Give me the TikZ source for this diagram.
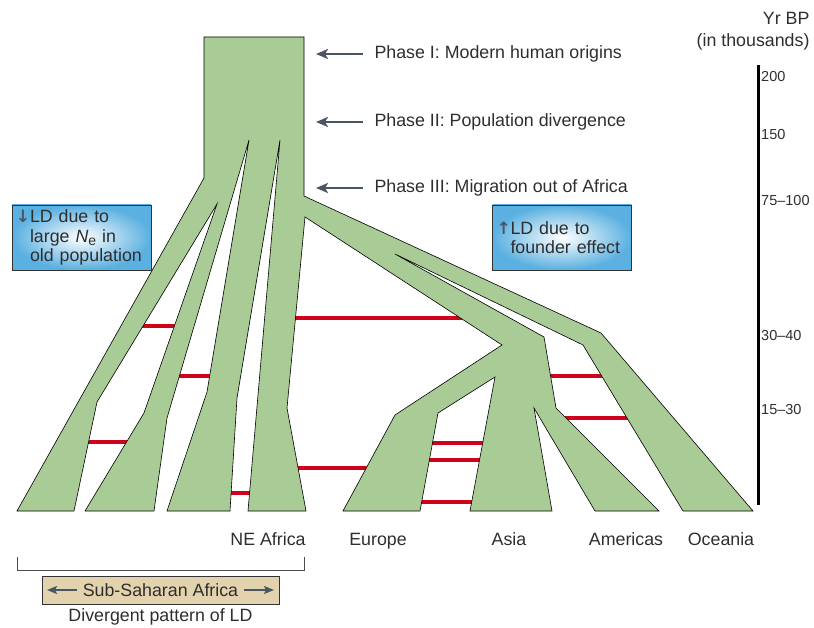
\documentclass[tikz,border=0pt]{standalone}
\usepackage{fontspec}
\setmainfont{Liberation Sans}
\newfontfamily\arrowfont{DejaVu Sans}
\usetikzlibrary{arrows.meta}
\definecolor{branchgreen}{HTML}{A9CC97}
\definecolor{ldred}{HTML}{D0021B}
\definecolor{arrowgray}{HTML}{4B5663}
\definecolor{boxblue}{HTML}{5AB0E0}
\definecolor{boxtan}{HTML}{E3D2AE}
\definecolor{txtgray}{HTML}{2E2E2E}
\begin{document}
\begin{tikzpicture}[x=1pt, y=-1pt,
    every node/.style={text=txtgray, font=\fontsize{17.8}{19.5}\selectfont},
    ldbar/.style={ldred, line width=4pt},
    phasearrow/.style={-{Stealth[length=12pt,width=10pt,inset=3pt]}, arrowgray, line width=2.6pt, shorten <=8pt},
    ssaarrow/.style={-{Stealth[length=10pt,width=8pt,inset=2pt]}, arrowgray, line width=2pt, shorten <=2pt},
    infobox/.style={draw=black!80, line width=0.8pt, inner color=white, outer color=boxblue,
        minimum width=139pt, minimum height=65pt, text width=131pt, inner xsep=4pt, align=left},
    ticklabel/.style={anchor=west, inner xsep=1pt, font=\fontsize{14.5}{17}\selectfont},
    poplabel/.style={anchor=base}]
    \useasboundingbox (0,0) rectangle (814,628);

    % Linkage between populations (behind the branches)
    \draw[ldbar] (141,326) -- (176,326);
    \draw[ldbar] (179,376) -- (211,376);
    \draw[ldbar] (86,442) -- (127,442);
    \draw[ldbar] (229,493) -- (251,493);
    \draw[ldbar] (295,318) -- (462,318);
    \draw[ldbar] (296,468) -- (367,468);
    \draw[ldbar] (431,443) -- (484,443);
    \draw[ldbar] (428,460) -- (481,460);
    \draw[ldbar] (420,502) -- (474,502);
    \draw[ldbar] (550,376) -- (604,376);
    \draw[ldbar] (563,418) -- (629,418);

    % Population tree
    \filldraw[fill=branchgreen, draw=black, line width=0.6pt]
        (204,37) -- (304,37) -- (304,196) -- (601,333) -- (753,511) -- (683,511)
        -- (583,345) -- (395,254) -- (544,337) -- (556,408) -- (659,511) -- (595,511)
        -- (534,408) -- (552,511) -- (470,511) -- (495,377) -- (438,413) -- (420,511)
        -- (343,511) -- (395,415) -- (502,345) -- (305,217) -- (287,408) -- (306,511)
        -- (248,511) -- (280,140) -- (237,398) -- (230,511) -- (167,511) -- (207,392)
        -- (249,140) -- (167,418) -- (154,511) -- (85,511) -- (144,413) -- (217,204)
        -- (97,402) -- (74,511) -- (17,511) -- (204,178) -- cycle;

    % Phases
    \node[anchor=west] (phaseI) at (371,54) {Phase I: Modern human origins};
    \node[anchor=west] (phaseII) at (371,122) {Phase II: Population divergence};
    \node[anchor=west] (phaseIII) at (371,188) {Phase III: Migration out of Africa};
    \coordinate (phaseIend) at (316,54);
    \coordinate (phaseIIend) at (316,122);
    \coordinate (phaseIIIend) at (316,188);
    \draw[phasearrow] (phaseI.west) -- (phaseIend);
    \draw[phasearrow] (phaseII.west) -- (phaseIIend);
    \draw[phasearrow] (phaseIII.west) -- (phaseIIIend);

    % LD boxes
    \node[infobox] (oldbox) at (81.5,237.5)
        {\makebox[14pt][l]{\textcolor{arrowgray}{\arrowfont\bfseries\fontsize{17}{19.5}\selectfont ↓}}LD due to\\
         \hspace*{14pt}large \textit{N}\raisebox{-0.4ex}{\fontsize{14}{14}\selectfont e} in\\
         \hspace*{14pt}old population};
    \node[infobox] (founderbox) at (562,237.5)
        {\makebox[14pt][l]{\textcolor{arrowgray}{\arrowfont\bfseries\fontsize{17}{19.5}\selectfont ↑}}LD due to\\
         \hspace*{14pt}founder effect};

    % Time axis
    \draw[line width=3pt] (758,65) -- (758,505);
    \node[anchor=east] (yrbp) at (813,18) {Yr BP};
    \node[anchor=east] (thousands) at (813,42) {(in thousands)};
    \node[ticklabel] (t200) at (760,77) {200};
    \node[ticklabel] (t150) at (760,135) {150};
    \node[ticklabel] (t75) at (760,201) {75–100};
    \node[ticklabel] (t30) at (760,336) {30–40};
    \node[ticklabel] (t15) at (760,410) {15–30};

    % Populations
    \node[poplabel] (neafrica) at (268,545) {NE Africa};
    \node[poplabel] (europe) at (378,545) {Europe};
    \node[poplabel] (asia) at (509,545) {Asia};
    \node[poplabel] (americas) at (626,545) {Americas};
    \node[poplabel] (oceania) at (721,545) {Oceania};

    % Sub-Saharan Africa
    \draw[line width=0.8pt, black!70] (17,557) -- (17,570) -- (304,570) -- (304,557);
    \node[draw=black!80, line width=0.8pt, fill=boxtan, minimum width=237pt, minimum height=28pt]
        (ssabox) at (160.5,590) {};
    \node (ssa) at (160.5,590) {Sub-Saharan Africa};
    \coordinate (ssaleft) at (47,590);
    \coordinate (ssaright) at (274,590);
    \draw[ssaarrow] (ssa.west) -- (ssaleft);
    \draw[ssaarrow] (ssa.east) -- (ssaright);
    \node (divergent) at (160.5,617) {Divergent pattern of LD};
\end{tikzpicture}
\end{document}
